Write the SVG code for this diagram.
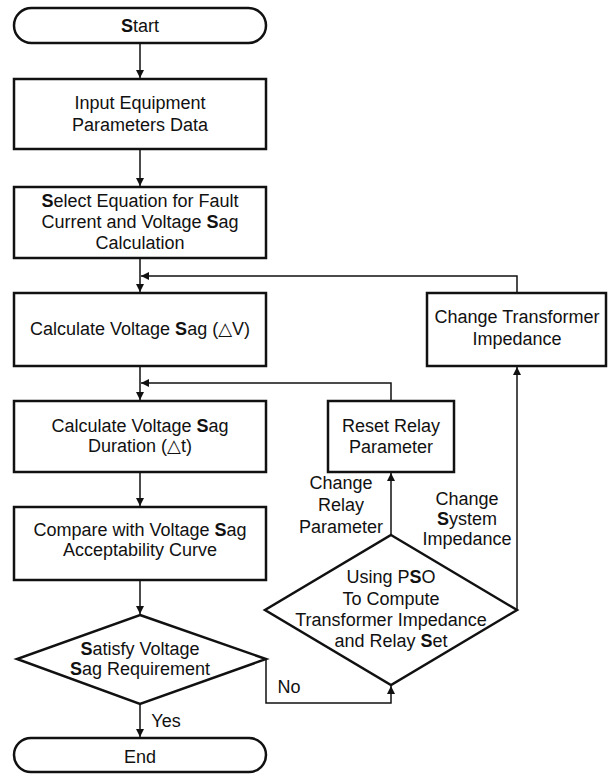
<svg xmlns="http://www.w3.org/2000/svg" width="609" height="776" viewBox="0 0 609 776">
<style>
.n{fill:#fff;stroke:#111;stroke-width:2.5}
.c{fill:none;stroke:#111;stroke-width:1.5}
text{font-family:"Liberation Sans",Arial,"DejaVu Sans",sans-serif;font-size:18px;fill:#111;text-anchor:middle}
.b{font-weight:bold}
</style>
<defs>
<marker id="ah" viewBox="0 0 10 10" refX="10" refY="5" markerWidth="9" markerHeight="8" markerUnits="userSpaceOnUse" orient="auto">
<path d="M0,0 L10,5 L0,10 Z" fill="#111"/>
</marker>
</defs>
<rect width="609" height="776" fill="#fff"/>
<g id="connectors">
<path class="c" d="M140,43 V78" marker-end="url(#ah)"/>
<path class="c" d="M140,149 V186" marker-end="url(#ah)"/>
<path class="c" d="M140,258 V292" marker-end="url(#ah)"/>
<path class="c" d="M140,366 V400" marker-end="url(#ah)"/>
<path class="c" d="M140,472 V506" marker-end="url(#ah)"/>
<path class="c" d="M140,580 V614" marker-end="url(#ah)"/>
<path class="c" d="M140,704 V737" marker-end="url(#ah)"/>
<path class="c" d="M517,610 V367" marker-end="url(#ah)"/>
<path class="c" d="M517,293 V276 H141" marker-end="url(#ah)"/>
<path class="c" d="M391,535 V473" marker-end="url(#ah)"/>
<path class="c" d="M391,401 V383 H141" marker-end="url(#ah)"/>
<path class="c" d="M266,659 V703 H391 V686" marker-end="url(#ah)"/>
<text x="166" y="727">Yes</text>
<text x="289" y="693">No</text>
<text x="341" y="489">Change</text>
<text x="341" y="511">Relay</text>
<text x="341" y="533">Parameter</text>
<text x="467" y="505">Change</text>
<text x="467" y="525"><tspan class="b">S</tspan>ystem</text>
<text x="467" y="545">Impedance</text>
</g>
<g id="start">
<rect class="n" x="14" y="8" width="252" height="35" rx="17.5"/>
<text x="140" y="32"><tspan class="b">S</tspan>tart</text>
</g>
<g id="input">
<rect class="n" x="14" y="79" width="252" height="70"/>
<text x="140" y="109">Input Equipment</text>
<text x="140" y="131">Parameters Data</text>
</g>
<g id="select">
<rect class="n" x="14" y="187" width="252" height="71"/>
<text x="140" y="207"><tspan class="b">S</tspan>elect Equation for Fault</text>
<text x="140" y="228">Current and Voltage <tspan class="b">S</tspan>ag</text>
<text x="140" y="249">Calculation</text>
</g>
<g id="calc-sag">
<rect class="n" x="14" y="293" width="252" height="73"/>
<text x="140" y="335">Calculate Voltage <tspan class="b">S</tspan>ag (△V)</text>
</g>
<g id="calc-duration">
<rect class="n" x="14" y="401" width="252" height="71"/>
<text x="140" y="432">Calculate Voltage <tspan class="b">S</tspan>ag</text>
<text x="140" y="452">Duration (△t)</text>
</g>
<g id="compare">
<rect class="n" x="14" y="507" width="252" height="73"/>
<text x="140" y="536">Compare with Voltage <tspan class="b">S</tspan>ag</text>
<text x="140" y="556">Acceptability Curve</text>
</g>
<g id="satisfy">
<polygon class="n" points="140,615 266,659 140,704 17,659"/>
<text x="140" y="655"><tspan class="b">S</tspan>atisfy Voltage</text>
<text x="140" y="675"><tspan class="b">S</tspan>ag Requirement</text>
</g>
<g id="end">
<rect class="n" x="14" y="738" width="252" height="34" rx="17"/>
<text x="140" y="763">End</text>
</g>
<g id="change-transformer">
<rect class="n" x="427" y="293" width="179" height="73"/>
<text x="517" y="323">Change Transformer</text>
<text x="517" y="345">Impedance</text>
</g>
<g id="reset-relay">
<rect class="n" x="328" y="401" width="126" height="71"/>
<text x="391" y="432">Reset Relay</text>
<text x="391" y="453">Parameter</text>
</g>
<g id="pso">
<polygon class="n" points="391,535 517,610 391,685 265,610"/>
<text x="391" y="583">Using P<tspan class="b">S</tspan>O</text>
<text x="391" y="605">To Compute</text>
<text x="391" y="626">Transformer Impedance</text>
<text x="391" y="647">and Relay <tspan class="b">S</tspan>et</text>
</g>
</svg>
